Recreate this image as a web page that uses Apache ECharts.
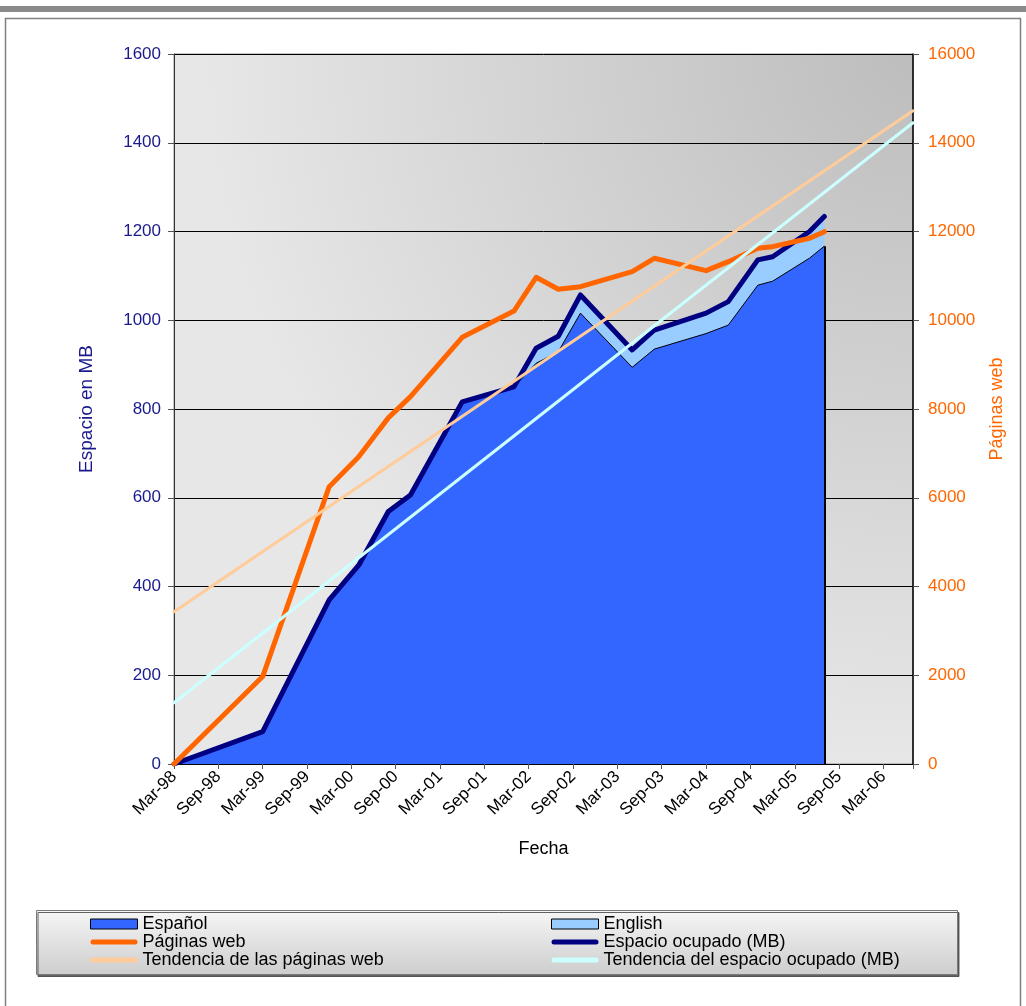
<!DOCTYPE html>
<html><head><meta charset="utf-8">
<script src="https://cdn.jsdelivr.net/npm/echarts@6/dist/echarts.min.js"></script>
<style>html,body{margin:0;padding:0;background:#fff}#c{width:1026px;height:1006px}</style>
</head><body><div id="c"></div>
<script>
// ---- data ----
const fechas = ['1998-03','1999-03','1999-12','2000-04','2000-08','2000-11','2001-06','2002-01','2002-04','2002-07','2002-10','2003-05','2003-08','2004-03','2004-06','2004-10','2004-12','2005-05','2005-07'];
const espanol = [0,73,370,448,569,606,816,850,903,929,1016,894,935,970,989,1079,1088,1140,1167];
const english = [0,0,0,0,0,0,0,0,34,35,41,39,43,46,53,57,55,60,67];
const espacioOcupado = [0,73,370,448,569,606,816,850,937,964,1057,933,978,1016,1042,1136,1143,1200,1234];
const paginasWeb = [0,1970,6250,6925,7800,8280,9616,10208,10968,10697,10757,11095,11396,11117,11320,11621,11658,11847,11996];
const fechasTendencia = ['1998-03','2006-07'];
const tendenciaPaginas = [3430,14720];
const tendenciaEspacio = [138,1445];
const xTickLabels = ['Mar-98','Sep-98','Mar-99','Sep-99','Mar-00','Sep-00','Mar-01','Sep-01','Mar-02','Sep-02','Mar-03','Sep-03','Mar-04','Sep-04','Mar-05','Sep-05','Mar-06'];
const yLeftTicks = [0,200,400,600,800,1000,1200,1400,1600];
const yRightTicks = [0,2000,4000,6000,8000,10000,12000,14000,16000];

// month index counted from Mar-98
function mIdx(s){ const p = s.split('-'); return (+p[0]-1998)*12 + (+p[1]-3); }
const xs = fechas.map(mIdx);
const xt = fechasTendencia.map(mIdx);
const xMax = mIdx('2006-07');

const F = 'Liberation Sans, Arial, sans-serif';
const chart = echarts.init(document.getElementById('c'), null, {renderer:'canvas'});

const lastX = xs[xs.length-1];
const lastEsp = espanol[espanol.length-1];
const BAR = 'path://M2.5,0 L44.5,0 A2.5,2.5 0 0 1 44.5,5 L2.5,5 A2.5,2.5 0 0 1 2.5,0 Z';

const option = {
  animation:false,
  backgroundColor:'#ffffff',
  grid:{left:174,right:113,top:54,bottom:242,show:true,borderColor:'#8c8c8c',borderWidth:1,
    backgroundColor:{type:'radial',x:1,y:0,r:1,colorStops:[{offset:0,color:'#BDBDBD'},{offset:1,color:'#E7E7E7'}]}},
  graphic:[
    {type:'rect',z:-10,shape:{x:0,y:6,width:1026,height:6},style:{fill:'#8a8a8a'}},
    {type:'line',z:-10,shape:{x1:5,y1:18.5,x2:1021,y2:18.5},style:{stroke:'#808080',lineWidth:1.5}},
    {type:'line',z:-10,shape:{x1:5.5,y1:18,x2:5.5,y2:1006},style:{stroke:'#808080',lineWidth:1.5}},
    {type:'line',z:-10,shape:{x1:1020.5,y1:18,x2:1020.5,y2:1006},style:{stroke:'#808080',lineWidth:1.5}},
    {type:'rect',z:-5,shape:{x:36.5,y:910.5,width:921,height:64},
      style:{fill:{type:'linear',x:0,y:0,x2:0,y2:1,colorStops:[{offset:0,color:'#F6F6F6'},{offset:1,color:'#CDCDCD'}]},
        stroke:'#7a7a7a',lineWidth:1,shadowColor:'rgba(60,60,60,0.8)',shadowOffsetX:1.5,shadowOffsetY:2,shadowBlur:0}}
  ],
  legend:[
    {left:90,top:915,orient:'vertical',itemWidth:47,itemHeight:10,itemGap:0,padding:0,selectedMode:false,symbolKeepAspect:true,
     textStyle:{fontFamily:F,fontSize:18,color:'#000',lineHeight:18},
     data:[
       {name:'Español',icon:'rect',itemStyle:{color:'#3366FF',borderColor:'#000',borderWidth:1}},
       {name:'Páginas web',icon:BAR,itemStyle:{color:'#FF6600',borderWidth:0}},
       {name:'Tendencia de las páginas web',icon:BAR,itemStyle:{color:'#FFCC99',borderWidth:0}}
     ]},
    {left:551,top:915,orient:'vertical',itemWidth:47,itemHeight:10,itemGap:0,padding:0,selectedMode:false,symbolKeepAspect:true,
     textStyle:{fontFamily:F,fontSize:18,color:'#000',lineHeight:18},
     data:[
       {name:'English',icon:'rect',itemStyle:{color:'#99CCFF',borderColor:'#000',borderWidth:1}},
       {name:'Espacio ocupado (MB)',icon:BAR,itemStyle:{color:'#000080',borderWidth:0}},
       {name:'Tendencia del espacio ocupado (MB)',icon:BAR,itemStyle:{color:'#CCFFFF',borderWidth:0}}
     ]}
  ],
  xAxis:{type:'value',min:0,max:xMax,interval:6,
    name:'Fecha',nameLocation:'middle',nameGap:76,
    nameTextStyle:{fontFamily:F,fontSize:18,color:'#000'},
    axisLine:{show:true,lineStyle:{color:'#000',width:1}},
    axisTick:{show:true,inside:false,length:5,lineStyle:{color:'#555'}},
    axisLabel:{rotate:45,margin:10,fontFamily:F,fontSize:17,color:'#000',
      formatter:v=> (v%6===0 && xTickLabels[v/6]!==undefined) ? xTickLabels[v/6] : ''},
    splitLine:{show:false}},
  yAxis:[
    {type:'value',min:yLeftTicks[0],max:yLeftTicks[yLeftTicks.length-1],interval:yLeftTicks[1]-yLeftTicks[0],
     name:'Espacio en MB',nameLocation:'middle',nameGap:78,nameRotate:90,
     nameTextStyle:{fontFamily:F,fontSize:19,color:'#1a1a8c'},
     axisLine:{show:true,lineStyle:{color:'#333',width:1}},
     axisTick:{show:true,inside:false,length:6,lineStyle:{color:'#555'}},
     axisLabel:{margin:13,fontFamily:F,fontSize:17,color:'#1a1a8c',formatter:v=>String(v)},
     splitLine:{show:true,lineStyle:{color:'#000',width:1}}},
    {type:'value',min:yRightTicks[0],max:yRightTicks[yRightTicks.length-1],interval:yRightTicks[1]-yRightTicks[0],
     position:'right',
     name:'Páginas web',nameLocation:'middle',nameGap:75,nameRotate:90,
     nameTextStyle:{fontFamily:F,fontSize:18,color:'#FF6600'},
     axisLine:{show:true,lineStyle:{color:'#000',width:1.5}},
     axisTick:{show:true,inside:false,length:6,lineStyle:{color:'#555'}},
     axisLabel:{margin:15,fontFamily:F,fontSize:17,color:'#FF6600',formatter:v=>String(v)},
     splitLine:{show:false}}
  ],
  series:[
    {name:'English',type:'line',z:1,color:'#99CCFF',symbol:'none',silent:true,
     data:xs.map((x,i)=>[x,espanol[i]+english[i]]),
     lineStyle:{color:'#000',width:1},areaStyle:{color:'#99CCFF',opacity:1}},
    {name:'Español',type:'line',z:2,color:'#3366FF',symbol:'none',silent:true,
     data:xs.map((x,i)=>[x,espanol[i]]),
     lineStyle:{color:'#000',width:1},areaStyle:{color:'#3366FF',opacity:1},
     markLine:{silent:true,symbol:'none',label:{show:false},lineStyle:{color:'#000',width:2,type:'solid'},
       data:[[{coord:[lastX,0]},{coord:[lastX,lastEsp]}]]}},
    {name:'Espacio ocupado (MB)',type:'line',z:3,color:'#000080',symbol:'none',silent:true,
     data:xs.map((x,i)=>[x,espacioOcupado[i]]),
     lineStyle:{color:'#000080',width:5,cap:'round',join:'round'}},
    {name:'Páginas web',type:'line',yAxisIndex:1,z:4,color:'#FF6600',symbol:'none',silent:true,
     data:xs.map((x,i)=>[x,paginasWeb[i]]),
     lineStyle:{color:'#FF6600',width:5,cap:'round',join:'round'}},
    {name:'Tendencia de las páginas web',type:'line',yAxisIndex:1,z:5,color:'#FFCC99',symbol:'none',silent:true,
     data:xt.map((x,i)=>[x,tendenciaPaginas[i]]),
     lineStyle:{color:'#FFCC99',width:3,cap:'round'}},
    {name:'Tendencia del espacio ocupado (MB)',type:'line',z:5,color:'#CCFFFF',symbol:'none',silent:true,
     data:xt.map((x,i)=>[x,tendenciaEspacio[i]]),
     lineStyle:{color:'#CCFFFF',width:3,cap:'round'}}
  ]
};
chart.setOption(option);
</script>
</body></html>
